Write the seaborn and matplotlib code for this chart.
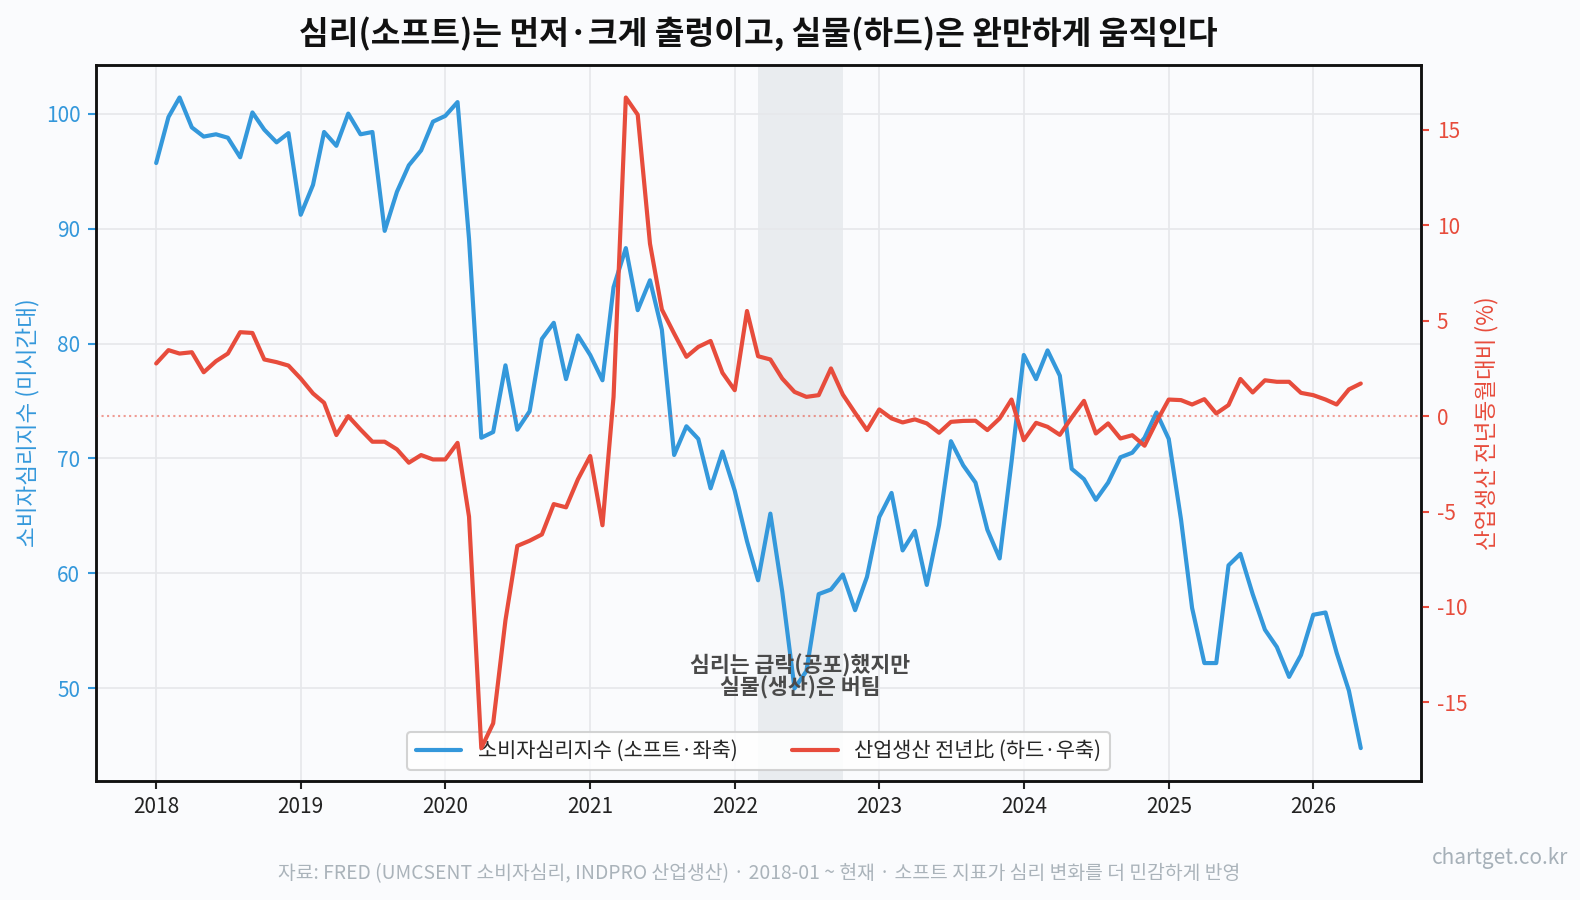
import numpy as np
import pandas as pd
import matplotlib
matplotlib.use("Agg")
import matplotlib.pyplot as plt
import seaborn as sns

# ---------------- data ----------------
start_month = "2018-01-01"
sentiment = [
    95.7, 99.7, 101.4, 98.8, 98.0, 98.2, 97.9, 96.2, 100.1, 98.6, 97.5, 98.3,
    91.2, 93.8, 98.4, 97.2, 100.0, 98.2, 98.4, 89.8, 93.2, 95.5, 96.8, 99.3,
    99.8, 101.0, 89.1, 71.8, 72.3, 78.1, 72.5, 74.1, 80.4, 81.8, 76.9, 80.7,
    79.0, 76.8, 84.9, 88.3, 82.9, 85.5, 81.2, 70.3, 72.8, 71.7, 67.4, 70.6,
    67.2, 62.8, 59.4, 65.2, 58.4, 50.0, 51.5, 58.2, 58.6, 59.9, 56.8, 59.7,
    64.9, 67.0, 62.0, 63.7, 59.0, 64.2, 71.5, 69.4, 67.9, 63.8, 61.3, 69.7,
    79.0, 76.9, 79.4, 77.2, 69.1, 68.2, 66.4, 67.9, 70.1, 70.5, 71.8, 74.0,
    71.7, 64.7, 57.0, 52.2, 52.2, 60.7, 61.7, 58.2, 55.1, 53.6, 51.0, 52.9,
    56.4, 56.6, 53.1, 49.8, 44.8,
]
indpro_yoy = [
    2.76, 3.46, 3.28, 3.35, 2.30, 2.88, 3.28, 4.40, 4.36, 2.97, 2.83, 2.65,
    1.97, 1.19, 0.70, -0.99, 0.00, -0.70, -1.34, -1.34, -1.74, -2.44, -2.04, -2.27,
    -2.27, -1.40, -5.27, -17.4, -16.1, -10.7, -6.80, -6.53, -6.20, -4.61, -4.78, -3.31,
    -2.09, -5.72, 1.01, 16.7, 15.8, 9.04, 5.59, 4.33, 3.11, 3.63, 3.94, 2.27,
    1.36, 5.51, 3.14, 2.97, 1.97, 1.27, 1.01, 1.10, 2.50, 1.13, 0.17, -0.73,
    0.35, -0.12, -0.33, -0.17, -0.38, -0.87, -0.30, -0.25, -0.24, -0.73, -0.12, 0.87,
    -1.26, -0.35, -0.56, -0.98, -0.07, 0.80, -0.91, -0.38, -1.17, -1.00, -1.55, -0.30,
    0.87, 0.84, 0.61, 0.89, 0.14, 0.58, 1.95, 1.24, 1.88, 1.80, 1.80, 1.22,
    1.10, 0.87, 0.61, 1.40, 1.71,
]
shade_start = "2022-03-01"
shade_end = "2022-10-01"
x_ticks = [str(y) for y in range(2018, 2027)]
left_ticks = [50, 60, 70, 80, 90, 100]
right_ticks = [-15, -10, -5, 0, 5, 10, 15]

title = "심리(소프트)는 먼저·크게 출렁이고, 실물(하드)은 완만하게 움직인다"
label_soft = "소비자심리지수 (소프트·좌축)"
label_hard = "산업생산 전년比 (하드·우축)"
ylabel_left = "소비자심리지수 (미시간대)"
ylabel_right = "산업생산 전년동월대비 (%)"
annot = "심리는 급락(공포)했지만\n실물(생산)은 버팀"
footer = "자료: FRED (UMCSENT 소비자심리, INDPRO 산업생산) · 2018-01 ~ 현재 · 소프트 지표가 심리 변화를 더 민감하게 반영"
watermark = "chartget.co.kr"

dates = pd.date_range(start_month, periods=len(sentiment), freq="MS")
df = pd.DataFrame({"date": dates, "soft": sentiment, "hard": indpro_yoy})

# ---------------- style ----------------
sns.set_theme(style="ticks")
plt.rcParams["font.family"] = ["Noto Sans CJK KR", "DejaVu Sans"]
plt.rcParams["axes.unicode_minus"] = False

BLUE = "#3498db"
RED = "#e74c3c"
BG = "#fafbfd"

fig = plt.figure(figsize=(10.54, 6.0), dpi=150, facecolor=BG)
ax = fig.add_axes([0.0607, 0.1326, 0.8381, 0.7952])
ax.set_facecolor(BG)
ax2 = ax.twinx()

ax.axvspan(pd.Timestamp(shade_start), pd.Timestamp(shade_end),
           color="#d5dbe0", alpha=0.45, lw=0, zorder=0)

sns.lineplot(data=df, x="date", y="soft", ax=ax, color=BLUE, lw=2.0,
             label=label_soft, legend=False)
sns.lineplot(data=df, x="date", y="hard", ax=ax2, color=RED, lw=2.0,
             label=label_hard, legend=False)
ax2.axhline(0, color=RED, lw=1.0, ls=":", alpha=0.55)

# ticks
ax.set_xticks([pd.Timestamp(f"{y}-01-01") for y in x_ticks])
ax.set_xticklabels(x_ticks)
ax.set_yticks(left_ticks)
ax2.set_yticks(right_ticks)
ax.tick_params(axis="x", labelsize=10, colors="#222222", length=4, width=1)
ax.tick_params(axis="y", labelsize=10, colors=BLUE, length=4, width=1)
ax2.tick_params(axis="y", labelsize=10, colors=RED, length=4, width=1)
for t in ax.get_xticklabels():
    t.set_color("#222222")

ax.grid(True, color="#e6e8eb", lw=0.9, alpha=0.9)
ax2.grid(False)
for a in (ax, ax2):
    for s in a.spines.values():
        s.set_color("#111111")
        s.set_linewidth(1.2)

ax.set_xlabel("")
ax.set_ylabel(ylabel_left, color=BLUE, fontsize=10.8, labelpad=3)
ax2.set_ylabel(ylabel_right, color=RED, fontsize=10.8, labelpad=3.5)

ax.set_title(title, fontsize=15.5, fontweight="bold", pad=10, color="#111111")

mid = pd.Timestamp(shade_start) + (pd.Timestamp(shade_end) - pd.Timestamp(shade_start)) / 2
ax.text(mid, 51.0, annot, ha="center", va="center", fontsize=10.4,
        fontweight="bold", color="#4a4a4a", linespacing=0.95, zorder=5)

h1, l1 = ax.get_legend_handles_labels()
h2, l2 = ax2.get_legend_handles_labels()
leg = ax.legend(h1 + h2, l1 + l2, loc="lower center", ncol=2, fontsize=10,
                frameon=True, framealpha=0.85, edgecolor="#cccccc",
                columnspacing=2.6, handlelength=2.2)
leg.set_zorder(3)
ax.set_zorder(ax2.get_zorder() - 1)
ax.patch.set_visible(True)
ax2.patch.set_visible(False)

fig.text(0.48, 0.029, footer, ha="center", va="center", fontsize=9.25, color="#aab3ba")
fig.text(0.992, 0.047, watermark, ha="right", va="center", fontsize=10, color="#a6b0b8")

fig.savefig("out.png", dpi=150, facecolor=BG)
